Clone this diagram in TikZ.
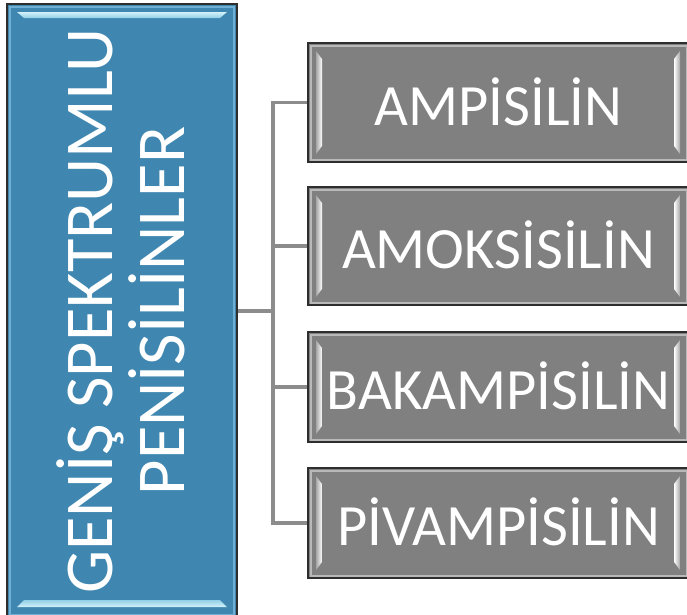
\documentclass[tikz,border=0pt]{standalone}
\usepackage{fontspec}
\setmainfont{Carlito}
\definecolor{bluefill}{HTML}{3F87B0}
\definecolor{bluerim}{HTML}{6FAFD3}
\definecolor{bluehi}{HTML}{A6E2F4}
\definecolor{grayfill}{HTML}{808080}
\definecolor{linegray}{HTML}{8C8C8C}
\definecolor{edgedark}{HTML}{2E2E2E}
\begin{document}
\begin{tikzpicture}[x=1pt,y=-1pt,
  mainbox/.style={draw=edgedark, line width=1.5pt, fill=bluefill, minimum width=230pt, minimum height=614pt,
    inner sep=0pt, text=white,
    path picture={
      \draw[bluerim, line width=2pt] ([xshift=3pt,yshift=-3pt]path picture bounding box.north west) rectangle ([xshift=-3pt,yshift=3pt]path picture bounding box.south east);
      \shade[top color=white!50!bluehi, bottom color=bluehi!80!bluefill]
        ([xshift=10pt,yshift=-8pt]path picture bounding box.north west) --
        ([xshift=-10pt,yshift=-8pt]path picture bounding box.north east) --
        ([xshift=-17pt,yshift=-14pt]path picture bounding box.north east) --
        ([xshift=17pt,yshift=-14pt]path picture bounding box.north west) -- cycle;
      \shade[top color=bluehi!80!bluefill, bottom color=white!50!bluehi]
        ([xshift=17pt,yshift=18pt]path picture bounding box.south west) --
        ([xshift=-17pt,yshift=18pt]path picture bounding box.south east) --
        ([xshift=-10pt,yshift=11pt]path picture bounding box.south east) --
        ([xshift=10pt,yshift=11pt]path picture bounding box.south west) -- cycle;
    }},
  graybox/.style={draw=edgedark, line width=1.5pt, fill=grayfill, minimum width=381pt,
    inner sep=0pt, text=white, font=\fontsize{58.5}{64}\selectfont,
    path picture={
      \draw[gray!55!white, line width=2pt] ([xshift=2.5pt,yshift=-2.5pt]path picture bounding box.north west) rectangle ([xshift=-2.5pt,yshift=2.5pt]path picture bounding box.south east);
      \shade[left color=gray!70, right color=white]
        ([xshift=8pt,yshift=-8pt]path picture bounding box.north west) --
        ([xshift=14pt,yshift=-16pt]path picture bounding box.north west) --
        ([xshift=14pt,yshift=16pt]path picture bounding box.south west) --
        ([xshift=8pt,yshift=8pt]path picture bounding box.south west) -- cycle;
      \shade[left color=white, right color=gray!70]
        ([xshift=-9pt,yshift=-8pt]path picture bounding box.north east) --
        ([xshift=-15pt,yshift=-16pt]path picture bounding box.north east) --
        ([xshift=-15pt,yshift=16pt]path picture bounding box.south east) --
        ([xshift=-9pt,yshift=8pt]path picture bounding box.south east) -- cycle;
    }},
  conn/.style={draw=linegray, line width=3.5pt}
]
\useasboundingbox (0,0) rectangle (687,614);
\fill[white] (0,0) rectangle (687,614);

\node[mainbox] (main) at (122,311) {};
\node[rotate=90, align=center, text=white, font=\fontsize{68.5}{72}\selectfont] (maintext) at ([xshift=-1pt]main.center) {GENİŞ SPEKTRUMLU\\PENİSİLİNLER};

\node[graybox, minimum height=119pt] (b1) at (498.5,102.5) {\raisebox{2pt}{AMPİSİLİN}};
\node[graybox, minimum height=118pt] (b2) at (498.5,246) {\raisebox{2pt}{AMOKSİSİLİN}};
\node[graybox, minimum height=110pt] (b3) at (498.5,387) {\raisebox{2pt}{BAKAMPİSİLİN}};
\node[graybox, minimum height=110pt] (b4) at (498.5,523) {\raisebox{2pt}{PİVAMPİSİLİN}};

\coordinate (j) at (273,311);
\draw[conn] (main.east) -- (j);
\draw[conn] (j) |- (b1.west);
\draw[conn] (j) |- (b2.west);
\draw[conn] (j) |- (b3.west);
\draw[conn] (j) |- (b4.west);
\end{tikzpicture}
\end{document}
